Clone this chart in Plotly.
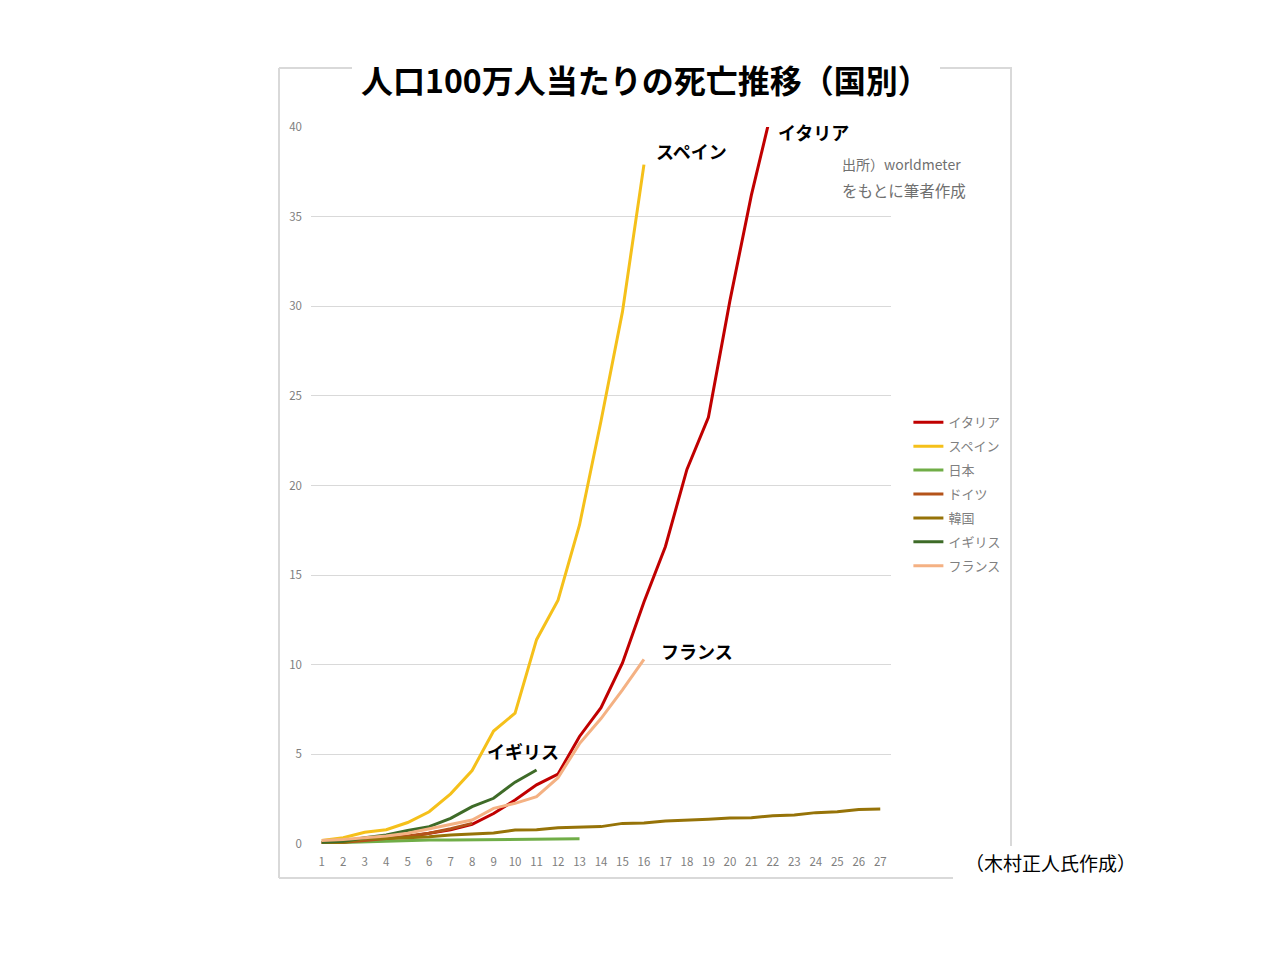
import plotly.graph_objects as go

days = list(range(1, 28))
names = ["イタリア", "スペイン", "日本", "ドイツ", "韓国", "イギリス", "フランス"]
italy = [0.05, 0.1, 0.25, 0.3, 0.4, 0.6, 0.8, 1.1, 1.7, 2.45, 3.3, 3.9, 6.0, 7.6, 10.1, 13.5,
         16.6, 20.9, 23.8, 30.3, 36.2, 41.2]
spain = [0.2, 0.35, 0.65, 0.8, 1.2, 1.8, 2.8, 4.1, 6.3, 7.3, 11.4, 13.6, 17.8, 23.6, 29.7, 37.9]
japan = [0.05, 0.08, 0.15, 0.18, 0.2, 0.22, 0.22, 0.23, 0.24, 0.26, 0.27, 0.28, 0.29]
germany = [0.05, 0.1, 0.2, 0.3, 0.45, 0.6, 0.85, 1.15]
korea = [0.05, 0.1, 0.3, 0.3, 0.35, 0.4, 0.5, 0.58, 0.62, 0.78, 0.8, 0.9, 0.92, 0.97, 1.15, 1.17,
         1.28, 1.32, 1.38, 1.45, 1.47, 1.58, 1.62, 1.75, 1.8, 1.93, 1.95]
uk = [0.1, 0.15, 0.35, 0.5, 0.75, 0.97, 1.43, 2.08, 2.55, 3.45, 4.13]
france = [0.2, 0.25, 0.35, 0.45, 0.6, 0.85, 1.1, 1.34, 1.99, 2.27, 2.64, 3.7, 5.6, 7.0, 8.6, 10.3]
colors = ["#C00000", "#F5C01A", "#70AD47", "#B4531A", "#967308", "#3E6B28", "#F4B183"]
series = [italy, spain, japan, germany, korea, uk, france]
y_ticks = [0, 5, 10, 15, 20, 25, 30, 35, 40]

JP = "Noto Sans CJK JP"
fig = go.Figure()
for n, s, c in zip(names, series, colors):
    fig.add_trace(go.Scatter(x=days[:len(s)], y=s, mode="lines", name=n, legendgroup=n,
                             line=dict(color=c, width=3)))

fig.update_layout(
    width=1280, height=960,
    margin=dict(l=303, r=397, t=119, b=124),
    paper_bgcolor="white", plot_bgcolor="white",
    font=dict(family=JP, color="#808080"),
    showlegend=True,
    legend=dict(x=1.03, xanchor="left", y=0.609, yanchor="top", tracegroupgap=4,
                font=dict(size=13, color="#808080", family=JP), bgcolor="rgba(0,0,0,0)"),
    xaxis=dict(range=[0.5, 27.5], tickvals=days, ticktext=[str(d) for d in days],
               showgrid=False, zeroline=False, showline=False, ticks="", ticklabelstandoff=9,
               tickfont=dict(size=11.5, color="#808080", family=JP)),
    yaxis=dict(range=[0, 40], tickvals=y_ticks, showgrid=True, gridcolor="#D9D9D9", gridwidth=1,
               zeroline=False, showline=False, ticks="", ticklabelstandoff=8,
               tickfont=dict(size=11.5, color="#808080", family=JP)),
)

# frame lines
frame = "#D9D9D9"
for x0, y0, x1, y1 in [(279, 68, 352, 68), (940, 68, 1012, 68), (279, 68, 279, 878),
                       (279, 878, 953, 878), (1011, 68, 1011, 846)]:
    fig.add_shape(type="line", xref="paper", yref="paper",
                  x0=(x0 - 311) / 580, x1=(x1 - 311) / 580,
                  y0=(844 - y0) / 717, y1=(844 - y1) / 717,
                  line=dict(color=frame, width=2))

fig.add_annotation(text="<b>人口100万人当たりの死亡推移（国別）</b>", xref="paper", yref="paper",
                   x=(645 - 311) / 580, y=(844 - 79) / 717, showarrow=False,
                   font=dict(size=32, color="black", family=JP), xanchor="center", yanchor="middle")

labels = [("スペイン", 18.2, 38.66), ("イタリア", 23.88, 39.72), ("フランス", 18.47, 10.77),
          ("イギリス", 10.37, 5.19), ("日本", 13.53, -0.06), ("韓国", 28.5, 1.95)]
for t, x, y in labels:
    fig.add_annotation(text="<b>" + t + "</b>", x=x, y=y, showarrow=False,
                       font=dict(size=18, color="black", family=JP), xanchor="center", yanchor="middle")

fig.add_annotation(text="出所）worldmeter", x=25.14, y=37.94, showarrow=False, xanchor="left",
                   yanchor="middle", font=dict(size=14, color="#707070", family=JP))
fig.add_annotation(text="をもとに筆者作成", x=25.14, y=36.49, showarrow=False, xanchor="left",
                   yanchor="middle", font=dict(size=15.5, color="#707070", family=JP))
fig.add_annotation(text="（木村正人氏作成）", xref="paper", yref="paper",
                   x=(1050 - 311) / 580, y=(844 - 862) / 717, showarrow=False,
                   xanchor="center", yanchor="middle",
                   font=dict(size=19, color="black", family=JP))

fig.write_html("out.html")
